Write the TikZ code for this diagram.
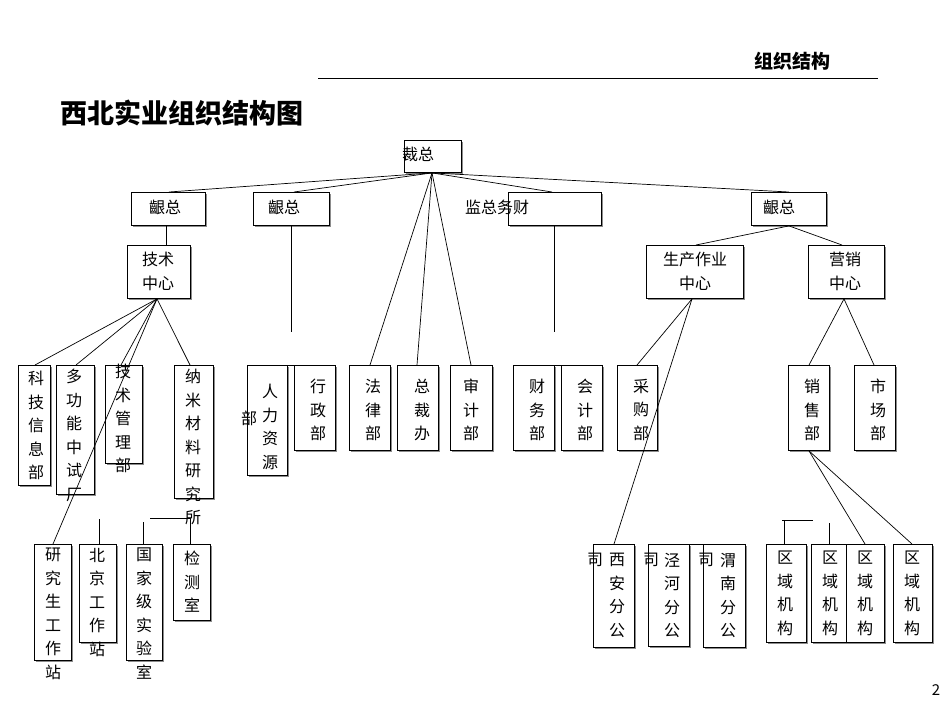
\documentclass[tikz,border=0pt]{standalone}
\usepackage{fontspec}
\setmainfont{Noto Sans CJK SC}
\newfontfamily\cjkb{Noto Sans CJK SC}[BoldFont={Noto Sans CJK SC Bold}]
\usetikzlibrary{shadows}
\begin{document}
\begin{tikzpicture}[x=1pt,y=-1pt,
  box/.style={draw,line width=0.9pt,fill=white,inner sep=0pt,anchor=north west,
    drop shadow={shadow xshift=1.2pt,shadow yshift=-1.2pt,fill=black!45,opacity=1}},
  txt/.style={inner sep=0pt,align=center,font=\fontsize{16}{23.5}\selectfont},
  ln/.style={line width=0.7pt}]
\useasboundingbox (0,0) rectangle (950,713);
\newcommand\bx[5]{\node[box,minimum width=#4pt-#2pt,minimum height=#5pt-#3pt] (#1) at (#2,#3) {};}
\newcommand\tx[4]{\node[txt,anchor=north] (#1) at (#2,#3) {#4};}
% header
\node[anchor=east,inner sep=0pt,font=\fontsize{19}{20}\selectfont\bfseries] (hd) at (831,61) {组织结构};
\coordinate (hl1) at (318,78); \coordinate (hl2) at (878,78);
\draw[line width=0.9pt] (hl1) -- (hl2);
\node[anchor=west,inner sep=0pt,font=\fontsize{27}{28}\selectfont\bfseries] (title) at (60,113) {西北实业组织结构图};
\node[inner sep=0pt,font=\fontsize{15}{16}\selectfont] (pg) at (936,690) {2};
% connector lines (drawn first, boxes cover)
\coordinate (top) at (432,173);
\coordinate (v2) at (291,332); \coordinate (v3) at (554,332);
\bx{ceo}{404}{140}{461}{172}
\bx{b1}{131}{192}{205}{225}
\bx{b2}{253}{192}{329}{225}
\bx{b3}{508}{192}{601}{225}
\bx{b4}{751}{192}{826}{225}
\bx{tc}{127}{245}{190}{298}
\bx{pc}{646}{245}{743}{298}
\bx{sc}{808}{245}{884}{298}
% level 3
\bx{k1}{18}{365}{50}{485}
\bx{k2}{56}{365}{94}{494}
\bx{k3}{105}{365}{142}{463}
\bx{k4}{174}{365}{213}{498}
\bx{h1}{247}{365}{287}{475}
\bx{h2}{294}{365}{335}{450}
\bx{f1}{349}{365}{390}{450}
\bx{f2}{397}{365}{438}{450}
\bx{f3}{450}{365}{492}{450}
\bx{c1}{513}{365}{554}{450}
\bx{c2}{561}{365}{602}{450}
\bx{p1}{617}{365}{657}{450}
\bx{s1}{788}{365}{829}{450}
\bx{s2}{854}{365}{895}{450}
% level 4
\bx{r1}{34}{544}{71}{660}
\bx{r2}{79}{544}{116}{642}
\bx{r3}{126}{544}{162}{660}
\bx{r4}{173}{544}{210}{620}
\bx{x1}{593}{544}{634}{647}
\bx{x2}{648}{544}{689}{646}
\bx{x3}{703}{544}{745}{647}
\bx{q1}{766}{544}{806}{642}
\bx{q2}{811}{544}{846}{642}
\bx{q3}{846}{544}{884}{642}
\bx{q4}{893}{544}{932}{642}
% lines
\begin{scope}[ln]
\draw (ceo.south -| top) -- (b1.north -| 169,0);
\draw (ceo.south -| top) -- (b2.north -| 294,0);
\draw (ceo.south -| top) -- (b3.north -| 552,0);
\draw (ceo.south -| top) -- (b4.north -| 789,0);
\draw (ceo.south -| top) -- (f1.north -| 370,0);
\draw (ceo.south -| top) -- (f2.north -| 417,0);
\draw (ceo.south -| top) -- (f3.north -| 471,0);
\draw (b1.south -| 166,0) -- (tc.north -| 166,0);
\draw (b2.south -| v2) -- (v2);
\draw (b3.south -| v3) -- (v3);
\draw (b4.south -| 789,0) -- (pc.north -| 696,0);
\draw (b4.south -| 789,0) -- (sc.north -| 842,0);
\draw (tc.south -| 157,0) -- (k1.north -| 35,0);
\draw (tc.south -| 157,0) -- (k2.north -| 76,0);
\draw (tc.south -| 157,0) -- (k3.north -| 121,0);
\draw (tc.south -| 157,0) -- (k4.north -| 190,0);
\draw (tc.south -| 157,0) -- (r1.north -| 53,0);
\draw (pc.south -| 692,0) -- (p1.north -| 637,0);
\draw (pc.south -| 692,0) -- (x1.north -| 614,0);
\draw (sc.south -| 844,0) -- (s1.north -| 809,0);
\draw (sc.south -| 844,0) -- (s2.north -| 874,0);
\draw (s1.south -| 809,0) -- (q3.north -| 865,0);
\draw (s1.south -| 809,0) -- (q4.north -| 912,0);
\draw (h1.north -| 267,0) -- (h2.north -| 313,0);
\draw (c1.north -| 535,0) -- (c2.north -| 580,0);
\draw (x2.north west) -- (x3.north -| 723,0);
\coordinate (a1) at (99,519); \draw (a1) -- (r2.north -| a1);
\coordinate (a2) at (143,522); \draw (a2) -- (r3.north -| a2);
\coordinate (a3) at (150,518); \coordinate (a4) at (190,518);
\draw (a3) -- (a4) -- (r4.north -| a4);
\coordinate (a5) at (782,520); \coordinate (a6) at (813,520); \coordinate (a7) at (784,520);
\draw (a5) -- (a6); \draw (a7) -- (q1.north -| a7);
\coordinate (a8) at (829,523); \draw (a8) -- (q2.north -| a8);
\end{scope}
% texts
\tx{t0}{418}{147}{裁总}
\tx{t1}{165}{200}{齦总}
\tx{t2}{284}{200}{齦总}
\tx{t3}{497}{200}{监总务财}
\tx{t4}{779}{200}{齦总}
\tx{t5}{158}{252}{技术\\中心}
\tx{t6}{695}{252}{生产作业\\中心}
\tx{t7}{845}{252}{营销\\中心}
\tx{u1}{36}{371}{科\\技\\信\\息\\部}
\tx{u2}{74}{369}{多\\功\\能\\中\\试\\厂}
\tx{u3}{123}{364}{技\\术\\管\\理\\部}
\tx{u4}{193}{369}{纳\\米\\材\\料\\研\\究\\所}
\tx{u5}{270}{384}{人\\力\\资\\源}
\tx{u5b}{249}{411}{部}
\tx{u6}{318}{379}{行\\政\\部}
\tx{u7}{373}{379}{法\\律\\部}
\tx{u8}{422}{379}{总\\裁\\办}
\tx{u9}{471}{379}{审\\计\\部}
\tx{u10}{537}{379}{财\\务\\部}
\tx{u11}{585}{379}{会\\计\\部}
\tx{u12}{641}{379}{采\\购\\部}
\tx{u13}{812}{379}{销\\售\\部}
\tx{u14}{878}{379}{市\\场\\部}
\tx{w1}{53}{548}{研\\究\\生\\工\\作\\站}
\tx{w2}{97}{548}{北\\京\\工\\作\\站}
\tx{w3}{144}{548}{国\\家\\级\\实\\验\\室}
\tx{w4}{192}{551}{检\\测\\室}
\tx{w5}{617}{553}{西\\安\\分\\公}
\tx{w5b}{595}{553}{司}
\tx{w6}{672}{553}{泾\\河\\分\\公}
\tx{w6b}{651}{553}{司}
\tx{w7}{728}{553}{渭\\南\\分\\公}
\tx{w7b}{706}{553}{司}
\tx{w8}{785}{551}{区\\域\\机\\构}
\tx{w9}{830}{551}{区\\域\\机\\构}
\tx{w10}{865}{551}{区\\域\\机\\构}
\tx{w11}{912}{551}{区\\域\\机\\构}
\end{tikzpicture}
\end{document}
